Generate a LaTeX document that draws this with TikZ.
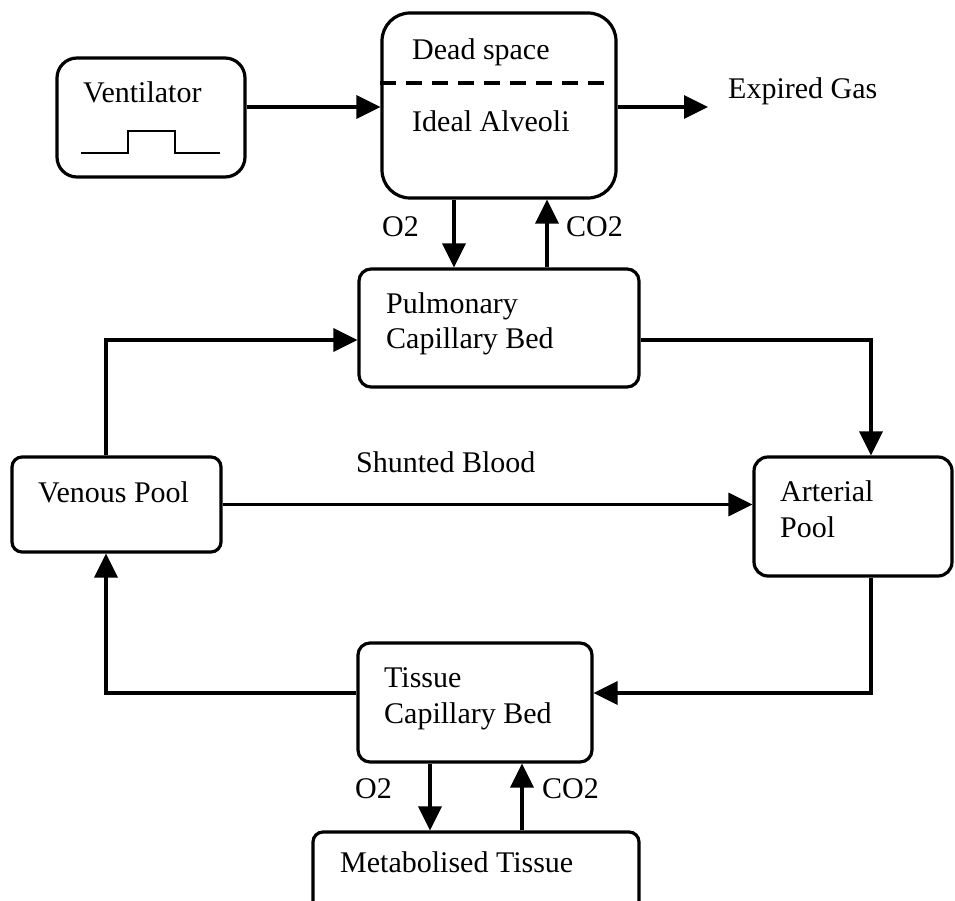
\documentclass[tikz,border=0pt]{standalone}
\usepackage{fontspec}
\setmainfont{Liberation Serif}
\usetikzlibrary{arrows.meta}
\begin{document}
\begin{tikzpicture}[x=1pt,y=-1pt,
  box/.style={draw, line width=3.2pt, inner sep=0pt},
  txt/.style={font=\fontsize{30}{36}\selectfont, inner sep=0pt, anchor=base west},
  flow/.style={line width=3.2pt, -{Triangle[length=24pt,width=23pt]}},
  plain/.style={line width=3.2pt}]
\clip (0,0) rectangle (955,901);

% compartments
\node[box, minimum width=188pt, minimum height=119pt, rounded corners=20pt] (vent) at (151,117.5) {};
\node[box, minimum width=234pt, minimum height=185pt, rounded corners=28pt] (alv) at (499,105.5) {};
\node[box, minimum width=280pt, minimum height=118pt, rounded corners=12pt] (pulm) at (499,328) {};
\node[box, minimum width=209pt, minimum height=95pt, rounded corners=10pt] (venous) at (116.5,504.5) {};
\node[box, minimum width=198pt, minimum height=119pt, rounded corners=14pt] (arterial) at (853,516.5) {};
\node[box, minimum width=234pt, minimum height=119pt, rounded corners=12pt] (tissue) at (475,702.5) {};
\node[box, minimum width=326pt, minimum height=80pt, rounded corners=10pt] (metab) at (476,872) {};

% texts
\node[txt] (tvent) at (83,103) {Ventilator};
\node[txt] (tdead) at (412,60) {Dead space};
\node[txt] (tideal) at (412,132) {Ideal Alveoli};
\node[txt] (texp) at (728,99) {Expired Gas};
\node[txt] (to2a) at (382,237) {O2};
\node[txt] (tco2a) at (566,237) {CO2};
\node[txt] (tpulm1) at (386,313) {Pulmonary};
\node[txt] (tpulm2) at (386,348) {Capillary Bed};
\node[txt] (tshunt) at (356,472) {Shunted Blood};
\node[txt] (tven) at (38,502) {Venous Pool};
\node[txt] (tart1) at (780,501) {Arterial};
\node[txt] (tart2) at (780,537) {Pool};
\node[txt] (ttis1) at (384,687) {Tissue};
\node[txt] (ttis2) at (384,723) {Capillary Bed};
\node[txt] (to2b) at (355,798) {O2};
\node[txt] (tco2b) at (542,798) {CO2};
\node[txt] (tmet) at (340,872) {Metabolised Tissue};

% ventilator pulse and dead-space boundary
\draw[line width=1.5pt] (81,153) -- (128,153) -- (128,131) -- (175,131) -- (175,153) -- (220,153);
\draw[plain, dash pattern=on 16pt off 10pt] (alv.west |- 0,83) -- (608,83);

% gas flow
\coordinate (expend) at (708,107);
\draw[flow] ([yshift=10.5pt]vent.east) -- ([yshift=10.5pt]vent.east -| alv.west);
\draw[flow] ([yshift=10.5pt]vent.east -| alv.east) -- (expend);
\draw[flow] ([xshift=-45pt]alv.south) -- ([xshift=-45pt]pulm.north);
\draw[flow] ([xshift=48pt]pulm.north) -- ([xshift=48pt]alv.south);

% blood circulation
\draw[flow] ([yshift=-12pt]pulm.east) -| ([xshift=18pt]arterial.north);
\draw[flow] ([xshift=-10.5pt]venous.north) |- ([yshift=-12pt]pulm.west);
\draw[flow] (venous.east) -- (venous.east -| arterial.west);
\draw[flow] ([xshift=18pt]arterial.south) |- ([yshift=9.5pt]tissue.east);
\draw[flow] ([yshift=9.5pt]tissue.west) -| ([xshift=-10.5pt]venous.south);

% tissue exchange
\draw[flow] ([xshift=-45pt]tissue.south) -- ([xshift=-45pt]tissue.south |- metab.north);
\draw[flow] ([xshift=47pt]tissue.south |- metab.north) -- ([xshift=47pt]tissue.south);
\end{tikzpicture}
\end{document}
